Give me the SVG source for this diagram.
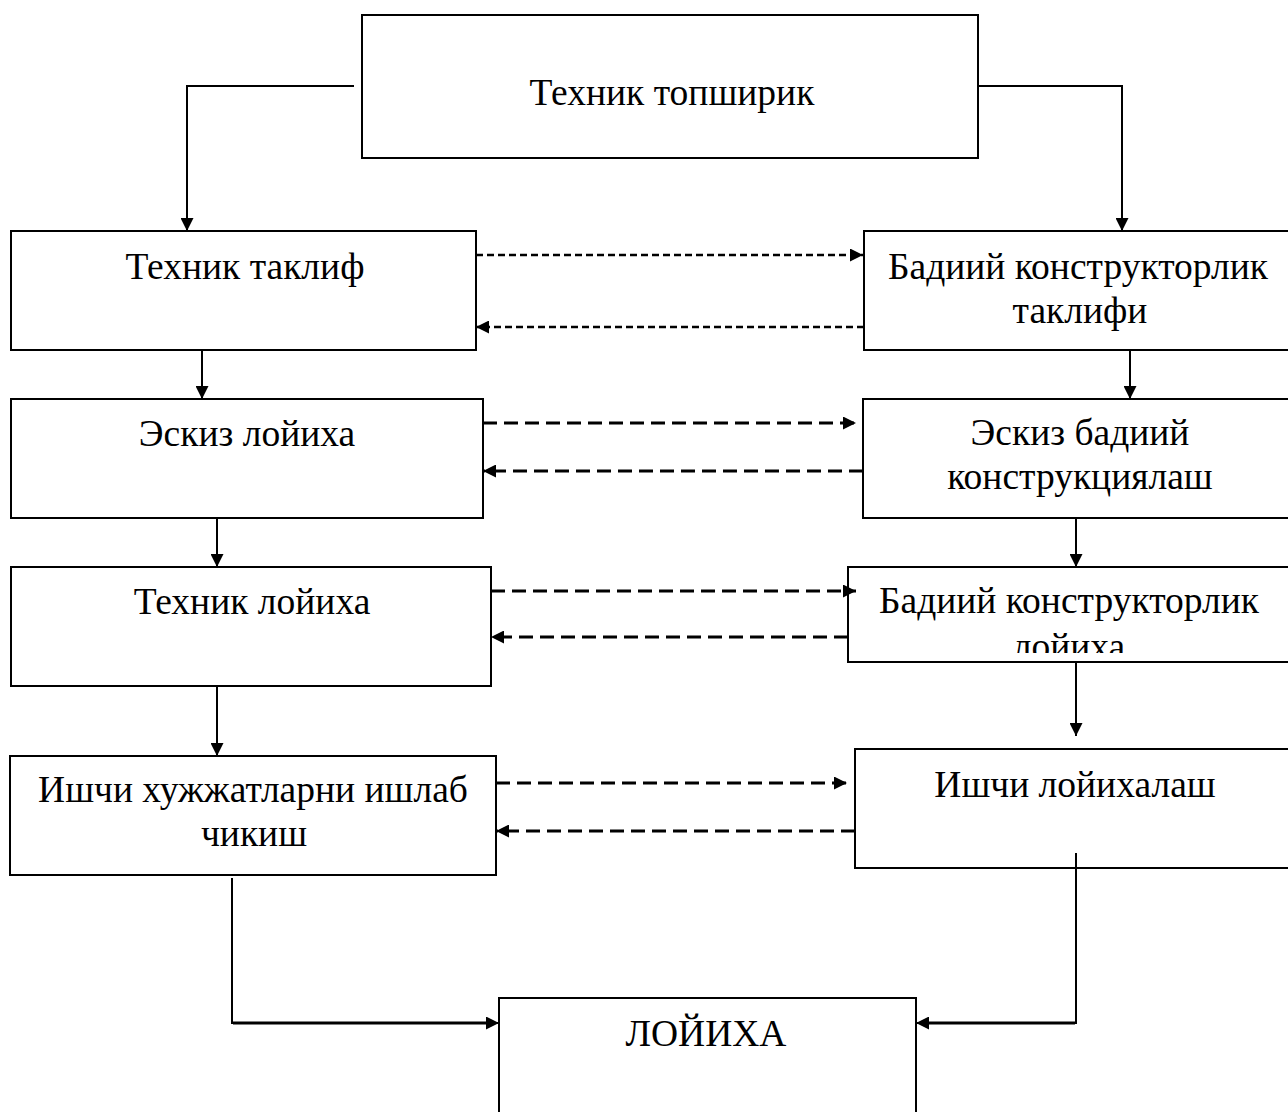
<svg xmlns="http://www.w3.org/2000/svg" width="1288" height="1112" viewBox="0 0 1288 1112">
<style>
.box{fill:#fff;stroke:#000;stroke-width:2}
.t{font-family:"Liberation Serif","Times New Roman",serif;font-size:37.5px;fill:#000;text-anchor:middle}
.ln{fill:none;stroke:#000;stroke-width:2}
.lt{fill:none;stroke:#000;stroke-width:3}
.d1{fill:none;stroke:#000;stroke-width:2.5;stroke-dasharray:7 4}
.d2{fill:none;stroke:#000;stroke-width:3;stroke-dasharray:14 7}
</style>
<defs>
<marker id="ah" viewBox="0 0 13 13" refX="13" refY="6.5" markerWidth="13" markerHeight="13" markerUnits="userSpaceOnUse" orient="auto">
<path d="M0,0 L13,6.5 L0,13 z" fill="#000"/>
</marker>
<clipPath id="c7"><rect x="848" y="560" width="440" height="93"/></clipPath>
</defs>
<rect width="1288" height="1112" fill="#fff"/>
<g id="n1"><rect class="box" x="362" y="15" width="616" height="143"/><text class="t" x="672" y="105">Техник топширик</text></g>
<g id="n2"><rect class="box" x="11" y="231" width="465" height="119"/><text class="t" x="245" y="279">Техник таклиф</text></g>
<g id="n3"><rect class="box" x="864" y="231" width="430" height="119"/><text class="t" x="1078" y="279">Бадиий конструкторлик</text><text class="t" x="1080" y="323">таклифи</text></g>
<g id="n4"><rect class="box" x="11" y="399" width="472" height="119"/><text class="t" x="247" y="446">Эскиз лойиха</text></g>
<g id="n5"><rect class="box" x="863" y="399" width="431" height="119"/><text class="t" x="1080" y="445">Эскиз бадиий</text><text class="t" x="1080" y="489">конструкциялаш</text></g>
<g id="n6"><rect class="box" x="11" y="567" width="480" height="119"/><text class="t" x="252" y="614">Техник лойиха</text></g>
<g id="n7"><rect class="box" x="848" y="567" width="446" height="95"/><text class="t" x="1069" y="613">Бадиий конструкторлик</text><text class="t" x="1069" y="659" clip-path="url(#c7)">лойиха</text></g>
<g id="n8"><rect class="box" x="10" y="756" width="486" height="119"/><text class="t" x="253" y="802">Ишчи хужжатларни ишлаб</text><text class="t" x="254" y="846">чикиш</text></g>
<g id="n9"><rect class="box" x="855" y="749" width="439" height="119"/><text class="t" x="1075" y="797">Ишчи лойихалаш</text></g>
<g id="n10"><rect class="box" x="499" y="998" width="417" height="130"/><text class="t" x="706" y="1046">ЛОЙИХА</text></g>
<g id="connectors">
<path class="ln" d="M354,86 H187 V231" marker-end="url(#ah)"/>
<path class="ln" d="M978,86 H1122 V231" marker-end="url(#ah)"/>
<path class="ln" d="M202,350 V399" marker-end="url(#ah)"/>
<path class="ln" d="M1130,350 V399" marker-end="url(#ah)"/>
<path class="ln" d="M217,518 V567" marker-end="url(#ah)"/>
<path class="ln" d="M1076,518 V567" marker-end="url(#ah)"/>
<path class="ln" d="M217,686 V756" marker-end="url(#ah)"/>
<path class="ln" d="M1076,662 V736" marker-end="url(#ah)"/>
<path class="ln" d="M232,878 V1023 H499" marker-end="url(#ah)"/>
<path class="ln" d="M1076,853 V1023 H916" marker-end="url(#ah)"/>
<path class="lt" d="M233,1023 H488"/>
<path class="lt" d="M1075,1023 H926"/>
<path class="d1" d="M476,255 H863" marker-end="url(#ah)"/>
<path class="d1" d="M864,327 H476" marker-end="url(#ah)"/>
<path class="d2" d="M483,423 H856" marker-end="url(#ah)"/>
<path class="d2" d="M863,471 H483" marker-end="url(#ah)"/>
<path class="d2" d="M491,591 H856" marker-end="url(#ah)"/>
<path class="d2" d="M848,637 H491" marker-end="url(#ah)"/>
<path class="d2" d="M496,783 H847" marker-end="url(#ah)"/>
<path class="d2" d="M855,831 H496" marker-end="url(#ah)"/>
</g>
</svg>
